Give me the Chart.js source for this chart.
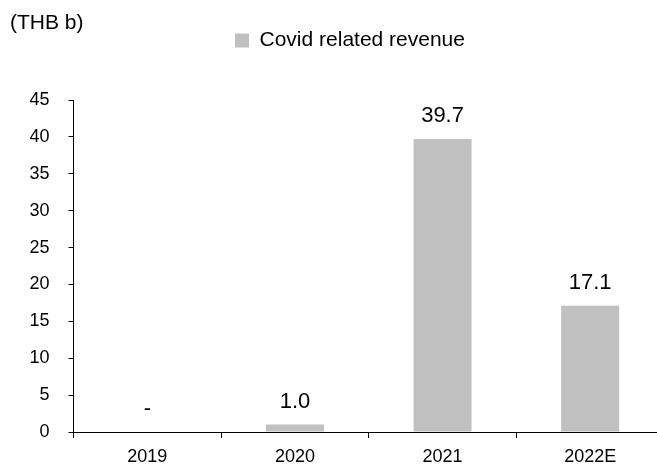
<!DOCTYPE html>
<html>
<head>
<meta charset="utf-8">
<script src="https://cdn.jsdelivr.net/npm/chart.js@4.4.0/dist/chart.umd.min.js"></script>
<style>
  html, body { margin: 0; padding: 0; background: #fff; overflow: hidden; }
  #wrap { width: 664px; height: 468px; }
</style>
</head>
<body>
<div id="wrap"><canvas id="bar-chart"></canvas></div>
<script>
// chart data
var years = ["2019", "2020", "2021", "2022E"];
var covidRevenue = [0, 1.0, 39.7, 17.1];
var valueLabels = ["-", "1.0", "39.7", "17.1"];
var yTicks = [0, 5, 10, 15, 20, 25, 30, 35, 40, 45];

var FONT = "'Liberation Sans', Arial, sans-serif";

// move the legend a bit right of centre, like the original
var legendShift = {
  id: 'legendShift',
  afterLayout: function(chart) {
    chart.legend.left += 13;
    chart.legend.right += 13;
  }
};

// value text above each bar
var barValues = {
  id: 'barValues',
  afterDatasetsDraw: function(chart) {
    var ctx = chart.ctx;
    var meta = chart.getDatasetMeta(0);
    ctx.save();
    ctx.font = "22px " + FONT;
    ctx.fillStyle = "#000";
    ctx.textAlign = "center";
    ctx.textBaseline = "middle";
    meta.data.forEach(function(bar, i) {
      ctx.fillText(valueLabels[i], bar.x, bar.y - 23);
    });
    ctx.restore();
  }
};

new Chart(document.getElementById("bar-chart"), {
  type: 'bar',
  data: {
    labels: years,
    datasets: [
      {
        label: "Covid related revenue",
        backgroundColor: "#c0c0c0",
        data: covidRevenue,
        barPercentage: 0.393,
        categoryPercentage: 1
      }
    ]
  },
  options: {
    responsive: true,
    maintainAspectRatio: false,
    animation: false,
    layout: { padding: { left: 10, right: 0, top: 0, bottom: 0 } },
    plugins: {
      tooltip: { enabled: false },
      title: {
        display: true,
        text: '(THB b)',
        align: 'start',
        color: '#000',
        font: { family: FONT, size: 21, weight: 'normal', lineHeight: 1 },
        padding: { top: 13, bottom: -12 }
      },
      legend: {
        display: true,
        position: 'top',
        labels: {
          color: '#000',
          font: { family: FONT, size: 21 },
          boxWidth: 14,
          boxHeight: 14,
          padding: 8
        }
      }
    },
    scales: {
      x: {
        border: { color: '#000', width: 1 },
        grid: { drawOnChartArea: false, drawTicks: true, tickLength: 6, color: '#000', offset: true },
        ticks: { color: '#000', font: { family: FONT, size: 18 }, padding: 8 },
        afterFit: function(scale) { scale.height = 36; }
      },
      // empty band between legend and plot
      gap: {
        type: 'category',
        position: 'top',
        labels: years,
        border: { display: false },
        grid: { display: false },
        ticks: { display: false },
        afterFit: function(scale) { scale.height = 39; }
      },
      y: {
        min: 0,
        max: 45,
        border: { color: '#000', width: 1 },
        grid: { drawOnChartArea: false, drawTicks: true, tickLength: 5, color: '#000' },
        afterBuildTicks: function(scale) {
          scale.ticks = yTicks.map(function(v) { return { value: v }; });
        },
        ticks: { color: '#000', font: { family: FONT, size: 18 }, padding: 19 },
        afterFit: function(scale) { scale.width = 63.5; }
      }
    }
  },
  plugins: [legendShift, barValues]
});
</script>
</body>
</html>
